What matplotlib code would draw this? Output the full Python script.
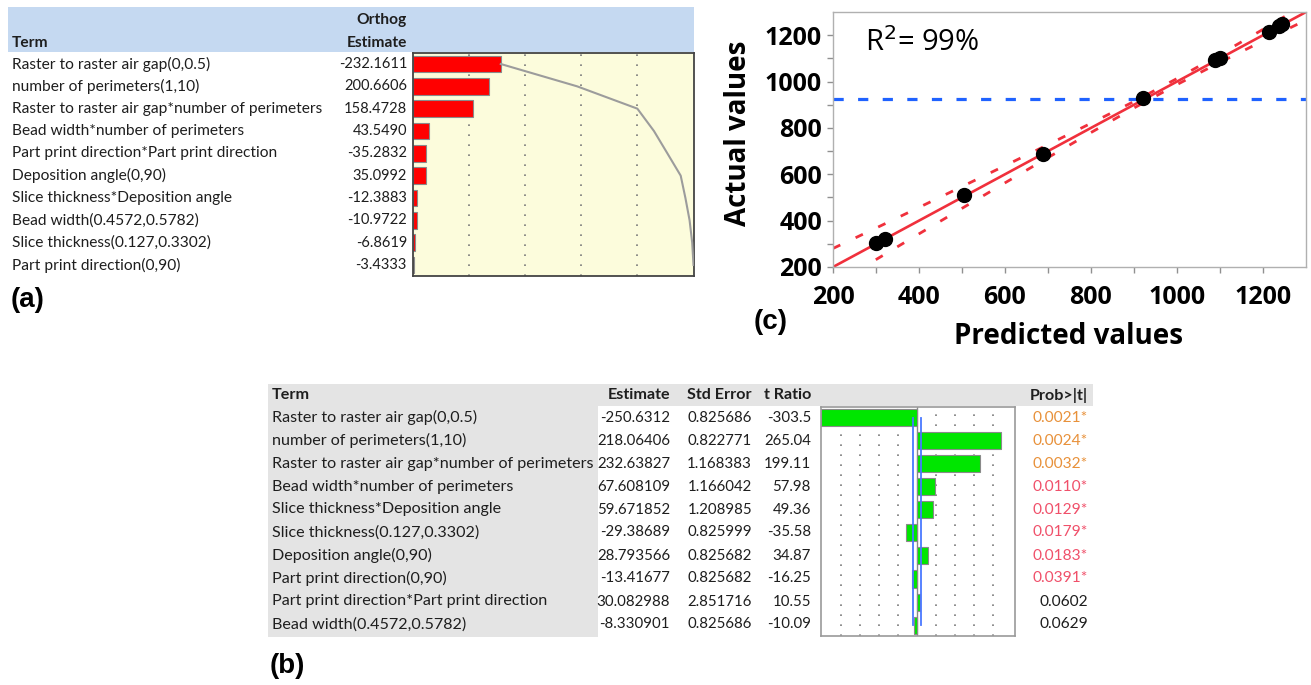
import matplotlib
matplotlib.use("Agg")
import matplotlib.pyplot as plt
from matplotlib.patches import Rectangle
import numpy as np

W, H = 1311, 685

# ---------------- (a) orthogonal estimates ----------------
terms_a = [
    "Raster to raster air gap(0,0.5)",
    "number of perimeters(1,10)",
    "Raster to raster air gap*number of perimeters",
    "Bead width*number of perimeters",
    "Part print direction*Part print direction",
    "Deposition angle(0,90)",
    "Slice thickness*Deposition angle",
    "Bead width(0.4572,0.5782)",
    "Slice thickness(0.127,0.3302)",
    "Part print direction(0,90)",
]
orthog_est = [-232.1611, 200.6606, 158.4728, 43.5490, -35.2832,
              35.0992, -12.3883, -10.9722, -6.8619, -3.4333]

# ---------------- (b) parameter estimates ----------------
terms_b = [
    "Raster to raster air gap(0,0.5)",
    "number of perimeters(1,10)",
    "Raster to raster air gap*number of perimeters",
    "Bead width*number of perimeters",
    "Slice thickness*Deposition angle",
    "Slice thickness(0.127,0.3302)",
    "Deposition angle(0,90)",
    "Part print direction(0,90)",
    "Part print direction*Part print direction",
    "Bead width(0.4572,0.5782)",
]
estimate_b = [-250.6312, 218.06406, 232.63827, 67.608109, 59.671852,
              -29.38689, 28.793566, -13.41677, 30.082988, -8.330901]
std_error_b = [0.825686, 0.822771, 1.168383, 1.166042, 1.208985,
               0.825999, 0.825682, 0.825682, 2.851716, 0.825686]
t_ratio_b = [-303.5, 265.04, 199.11, 57.98, 49.36,
             -35.58, 34.87, -16.25, 10.55, -10.09]
prob_b = [0.0021, 0.0024, 0.0032, 0.0110, 0.0129,
          0.0179, 0.0183, 0.0391, 0.0602, 0.0629]
t_crit = 12.71

# ---------------- (c) actual by predicted ----------------
predicted = [301, 320, 505, 688, 922, 1089, 1100, 1213, 1237, 1245]
actual = [305, 322, 509, 689, 930, 1092, 1102, 1214, 1239, 1247]
fit_x = [200, 1300]
fit_y = [200, 1300]
band_x = [200, 300, 400, 500, 600, 700, 800, 900, 1000, 1100, 1200, 1300]
band_hw = [80, 68, 57, 47, 37, 28, 20, 14, 13, 17, 25, 35]
mean_actual = 925
r2_text = "R$^2$= 99%"

TABLE_FONT = "Lato"
BOLD_FONT = "Open Sans"
TXT = "#1e1e1e"

fig = plt.figure(figsize=(W / 100, H / 100), dpi=100)
fig.patch.set_facecolor("white")

ov = fig.add_axes([0, 0, 1, 1])
ov.set_xlim(0, W)
ov.set_ylim(H, 0)
ov.axis("off")


def px_axes(x0, y0, x1, y1, **kw):
    return fig.add_axes([x0 / W, 1 - y1 / H, (x1 - x0) / W, (y1 - y0) / H], **kw)


def tbl_text(x, y, s, ha="left", bold=False, color=TXT, size=11):
    ov.text(x, y, s, ha=ha, va="center", fontsize=size, color=color,
            family=TABLE_FONT, fontweight="bold" if bold else "normal")


# ===== panel (a) =====
SIZE_A = 11.2
NUM_A = 10.5
ov.add_patch(Rectangle((8, 7), 686, 45, facecolor="#c5d9f1", edgecolor="none", zorder=0))
tbl_text(12, 43, "Term", bold=True, size=SIZE_A)
tbl_text(407, 20, "Orthog", ha="right", bold=True, size=SIZE_A)
tbl_text(407, 43, "Estimate", ha="right", bold=True, size=SIZE_A)
row_a0, row_a_step = 64.0, 22.33
for i, (t, v) in enumerate(zip(terms_a, orthog_est)):
    y = row_a0 + i * row_a_step
    tbl_text(12, y, t, size=SIZE_A)
    tbl_text(407, y, f"{v:.4f}", ha="right", size=NUM_A)

axa = px_axes(412.5, row_a0 - row_a_step / 2, 693.5, row_a0 + 9.5 * row_a_step)
abs_est = np.abs(orthog_est)
total = abs_est.sum()
rows_a = np.arange(len(orthog_est))
axa.set_facecolor("#fcfcdc")
for g in np.array([0.2, 0.4, 0.6, 0.8]) * total:
    axa.axvline(g, color="#7a7a7a", lw=1.2, ls=(0, (1, 5)), zorder=1)
axa.barh(rows_a, abs_est, height=0.74, color="#ff0000", edgecolor="#8a8a8a",
         linewidth=0.8, zorder=2)
axa.plot(np.cumsum(abs_est), rows_a, color="#9c9c9c", lw=1.5, zorder=3)
axa.set_xlim(0, total)
axa.set_ylim(9.5, -0.5)
axa.set_xticks([])
axa.set_yticks([])
for s in axa.spines.values():
    s.set_color("#444444")
    s.set_linewidth(1.3)

ov.text(28, 300, "(a)", ha="center", va="center", fontsize=20,
        fontweight="bold", family="Liberation Sans", color="black")

# ===== panel (b) =====
SIZE_B = 11.6
NUM_B = 10.8
ov.add_patch(Rectangle((268, 384), 825, 22, facecolor="#e4e4e4", edgecolor="none", zorder=0))
ov.add_patch(Rectangle((268, 406), 330, 231, facecolor="#e4e4e4", edgecolor="none", zorder=0))
tbl_text(272, 395, "Term", bold=True, size=SIZE_B)
tbl_text(670, 395, "Estimate", ha="right", bold=True, size=SIZE_B)
tbl_text(752, 395, "Std Error", ha="right", bold=True, size=SIZE_B)
tbl_text(811, 395, "t Ratio", ha="right", bold=True, size=SIZE_B)
tbl_text(1088, 395, "Prob>|t|", ha="right", bold=True, size=SIZE_B)

row_b0, row_b_step = 417.5, 23.0
for i in range(len(terms_b)):
    y = row_b0 + i * row_b_step
    tbl_text(272, y, terms_b[i], size=SIZE_B)
    tbl_text(670, y, str(estimate_b[i]), ha="right", size=NUM_B)
    tbl_text(752, y, f"{std_error_b[i]:.6f}", ha="right", size=NUM_B)
    tbl_text(811, y, f"{t_ratio_b[i]:.5g}", ha="right", size=NUM_B)
    p = prob_b[i]
    if p < 0.01:
        col, s = "#e8913a", f"{p:.4f}*"
    elif p < 0.05:
        col, s = "#f0506a", f"{p:.4f}*"
    else:
        col, s = TXT, f"{p:.4f}"
    tbl_text(1088, y, s, ha="right", color=col, size=NUM_B + 0.4)

axb = px_axes(821, row_b0 - 0.45 * row_b_step, 1015, row_b0 + 9.5 * row_b_step)
rows_b = np.arange(len(t_ratio_b))
axb.set_facecolor("white")
for g in [-240, -180, -120, -60, 60, 120, 180, 240]:
    axb.axvline(g, color="#7a7a7a", lw=1.2, ls=(0, (1, 5)), zorder=1)
axb.axvline(0, color="#8a8a8a", lw=1.0, zorder=1)
axb.barh(rows_b, t_ratio_b, height=0.74, color="#00e600", edgecolor="#8a8a8a",
         linewidth=0.8, zorder=2)
axb.plot([-t_crit, -t_crit], [0, 9], color="#4a78ff", lw=1.3, zorder=3)
axb.plot([t_crit, t_crit], [0, 9], color="#4a78ff", lw=1.3, zorder=3)
axb.set_xlim(-303.5, 310)
axb.set_ylim(9.47, -0.45)
axb.set_xticks([])
axb.set_yticks([])
for s in axb.spines.values():
    s.set_color("#9a9a9a")
    s.set_linewidth(1.2)

ov.text(287, 666, "(b)", ha="center", va="center", fontsize=20,
        fontweight="bold", family="Liberation Sans", color="black")

# ===== panel (c) =====
axc = px_axes(833, 12, 1306, 267)
axc.plot(fit_x, fit_y, color="#f0303c", lw=1.9, zorder=2)
bx = np.array(band_x, dtype=float)
bh = np.array(band_hw, dtype=float)
axc.plot(bx, bx + bh, color="#f0303c", lw=2.0, ls=(0, (2.9, 6.1)), zorder=2)
axc.plot(bx, bx - bh, color="#f0303c", lw=2.0, ls=(0, (2.9, 6.1)), zorder=2)
axc.axhline(mean_actual, color="#1f62ff", lw=2.3, ls=(0, (3.2, 4.5)), zorder=2)
axc.plot(predicted, actual, "o", color="black", ms=10, zorder=4)
axc.set_xlim(200, 1300)
axc.set_ylim(200, 1300)
axc.set_xticks(range(200, 1201, 200))
axc.set_yticks(range(200, 1201, 200))
axc.set_xticks(range(300, 1300, 200), minor=True)
axc.set_yticks(range(300, 1300, 200), minor=True)
for s in axc.spines.values():
    s.set_color("#b0b0b0")
    s.set_linewidth(1.0)
axc.tick_params(which="both", color="#909090", length=4, width=1)
axc.tick_params(axis="x", pad=9)
axc.tick_params(axis="y", pad=4)
for lab in axc.get_xticklabels() + axc.get_yticklabels():
    lab.set_fontsize(18)
    lab.set_fontweight("bold")
    lab.set_family(BOLD_FONT)
axc.text(0.068, 0.88, r2_text, transform=axc.transAxes, fontsize=21,
         family=BOLD_FONT, color="black", va="center")

ov.text(738, 133, "Actual values", rotation=90, ha="center", va="center",
        fontsize=20, fontweight="bold", family=BOLD_FONT, color="black")
ov.text(1068, 336, "Predicted values", ha="center", va="center",
        fontsize=20, fontweight="bold", family=BOLD_FONT, color="black")
ov.text(771, 322, "(c)", ha="center", va="center", fontsize=20,
        fontweight="bold", family="Liberation Sans", color="black")

fig.savefig("out.png", dpi=100)
